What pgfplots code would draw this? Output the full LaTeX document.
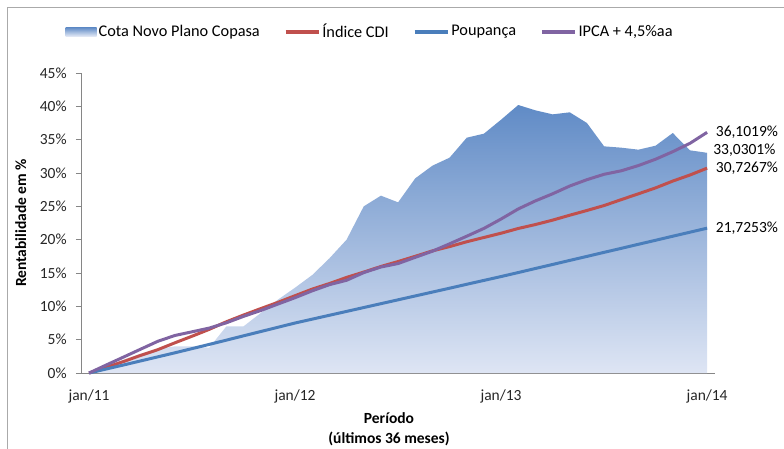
\documentclass[border=0pt]{standalone}
\usepackage{pgfplots}
\pgfplotsset{compat=1.18}
\usepackage{fontspec}
\setmainfont{Carlito}
\definecolor{cdi}{RGB}{192,80,77}
\definecolor{poup}{RGB}{74,126,187}
\definecolor{ipca}{RGB}{128,100,162}
\definecolor{cotatop}{RGB}{96,139,198}
\definecolor{cotabot}{RGB}{222,229,244}
\definecolor{axgray}{RGB}{134,134,134}
\begin{document}
\fontsize{15.5}{18}\selectfont
\begin{tikzpicture}[x=1pt,y=1pt]
\clip (0,0) rectangle (784,448);
\draw[axgray!70,line width=1pt] (7,-10) rectangle (800,440);
\begin{axis}[
  at={(81pt,75pt)}, anchor=south west,
  scale only axis, width=634pt, height=300pt,
  xmin=-0.47, xmax=36.46, ymin=0, ymax=45,
  axis x line*=bottom, axis y line*=left,
  axis line style={axgray, line width=0.8pt},
  every tick/.style={axgray, line width=0.8pt},
  tick align=outside,
  xtick={0,12,24,36}, xticklabels={jan/11,jan/12,jan/13,jan/14},
  x tick style={draw=none},
  extra x ticks={-0.47,11.53,23.53,35.53}, extra x tick labels={},
  extra x tick style={major tick length=5pt, tick style={axgray, line width=0.8pt}},
  ytick={0,5,10,15,20,25,30,35,40,45},
  yticklabels={0\%,5\%,10\%,15\%,20\%,25\%,30\%,35\%,40\%,45\%},
  major tick length=5pt,
  ticklabel style={font=\fontsize{15.5}{18}\selectfont, text=black!85},
  xticklabel style={yshift=-6pt},
  yticklabel style={xshift=-4pt},
  clip=false,
  xlabel={\bfseries\begin{tabular}{c}Período\\[1pt](últimos 36 meses)\end{tabular}},
  xlabel style={font=\fontsize{15.5}{19}\selectfont, xshift=-9pt, yshift=13pt},
  ylabel={\bfseries Rentabilidade em \%},
  ylabel style={font=\fontsize{15.5}{18}\selectfont, yshift=3pt},
  legend columns=4,
  legend style={at={(0.456,1.137)}, anchor=center, draw=none, fill=none,
    font=\fontsize{16.3}{18}\selectfont,
    /tikz/every even column/.append style={column sep=22pt},
    nodes={inner xsep=2pt, inner ysep=0pt}},
  legend cell align=left,
]
\addplot[draw=none, top color=cotatop, bottom color=cotabot,
  legend image code/.code={\shade[top color=cotatop, bottom color=cotabot!80!white] (0pt,-4.5pt) rectangle (31pt,4.5pt);}]
coordinates {
(0,0) (1,1.0) (2,2.0) (3,2.9) (4,3.6) (5,4.0) (6,4.0) (7,3.8) (8,7.0) (9,7.0)
(10,9.0) (11,11.0) (12,12.8) (13,14.7) (14,17.2) (15,20.0) (16,25.0) (17,26.6) (18,25.6) (19,29.2)
(20,31.1) (21,32.3) (22,35.3) (23,35.9) (24,38.0) (25,40.2) (26,39.4) (27,38.8) (28,39.1) (29,37.5)
(30,34.0) (31,33.8) (32,33.5) (33,34.1) (34,36.0) (35,33.4) (36,33.0301)
} \closedcycle;
\addlegendentry{Cota Novo Plano Copasa}
\addplot[cdi, line width=3pt, line join=round,
  legend image code/.code={\draw[cdi,line width=3.5pt] (0pt,0pt) -- (33pt,0pt);}]
coordinates {
(0,0) (1,0.86) (2,1.71) (3,2.64) (4,3.50) (5,4.53) (6,5.52) (7,6.55) (8,7.69) (9,8.70)
(10,9.66) (11,10.60) (12,11.60) (13,12.59) (14,13.42) (15,14.34) (16,15.14) (17,15.98) (18,16.72) (19,17.51)
(20,18.32) (21,18.96) (22,19.69) (23,20.33) (24,20.97) (25,21.68) (26,22.27) (27,22.93) (28,23.67) (29,24.38)
(30,25.12) (31,26.01) (32,26.88) (33,27.77) (34,28.79) (35,29.70) (36,30.7267)
};
\addlegendentry{Índice CDI}
\addplot[poup, line width=3pt, line join=round,
  legend image code/.code={\draw[poup,line width=3.5pt] (0pt,0pt) -- (33pt,0pt);}]
coordinates {
(0,0) (1,0.60) (2,1.20) (3,1.81) (4,2.42) (5,3.03) (6,3.66) (7,4.29) (8,4.93) (9,5.58)
(10,6.22) (11,6.86) (12,7.50) (13,8.08) (14,8.66) (15,9.24) (16,9.82) (17,10.40) (18,10.98) (19,11.56)
(20,12.14) (21,12.72) (22,13.31) (23,13.89) (24,14.47) (25,15.07) (26,15.68) (27,16.28) (28,16.89) (29,17.49)
(30,18.10) (31,18.70) (32,19.31) (33,19.91) (34,20.52) (35,21.12) (36,21.7253)
};
\addlegendentry{Poupança}
\addplot[ipca, line width=3pt, line join=round,
  legend image code/.code={\draw[ipca,line width=3.5pt] (0pt,0pt) -- (33pt,0pt);}]
coordinates {
(0,0) (1,1.20) (2,2.38) (3,3.57) (4,4.75) (5,5.63) (6,6.18) (7,6.74) (8,7.53) (9,8.50)
(10,9.37) (11,10.34) (12,11.30) (13,12.33) (14,13.25) (15,13.91) (16,15.06) (17,15.90) (18,16.42) (19,17.35)
(20,18.27) (21,19.38) (22,20.52) (23,21.69) (24,23.10) (25,24.61) (26,25.82) (27,26.88) (28,28.05) (29,29.00)
(30,29.81) (31,30.33) (32,31.12) (33,32.07) (34,33.20) (35,34.45) (36,36.1019)
};
\addlegendentry{IPCA + 4,5\%aa}
\node[anchor=west, inner sep=0pt, font=\fontsize{15.5}{18}\selectfont] at (axis cs:36.5,36.1019) {36,1019\%};
\node[anchor=west, inner sep=0pt, font=\fontsize{15.5}{18}\selectfont] at (axis cs:36.35,33.45) {33,0301\%};
\node[anchor=west, inner sep=0pt, font=\fontsize{15.5}{18}\selectfont] at (axis cs:36.5,30.7267) {30,7267\%};
\node[anchor=west, inner sep=0pt, font=\fontsize{15.5}{18}\selectfont] at (axis cs:36.5,21.7253) {21,7253\%};
\end{axis}
\end{tikzpicture}
\end{document}
